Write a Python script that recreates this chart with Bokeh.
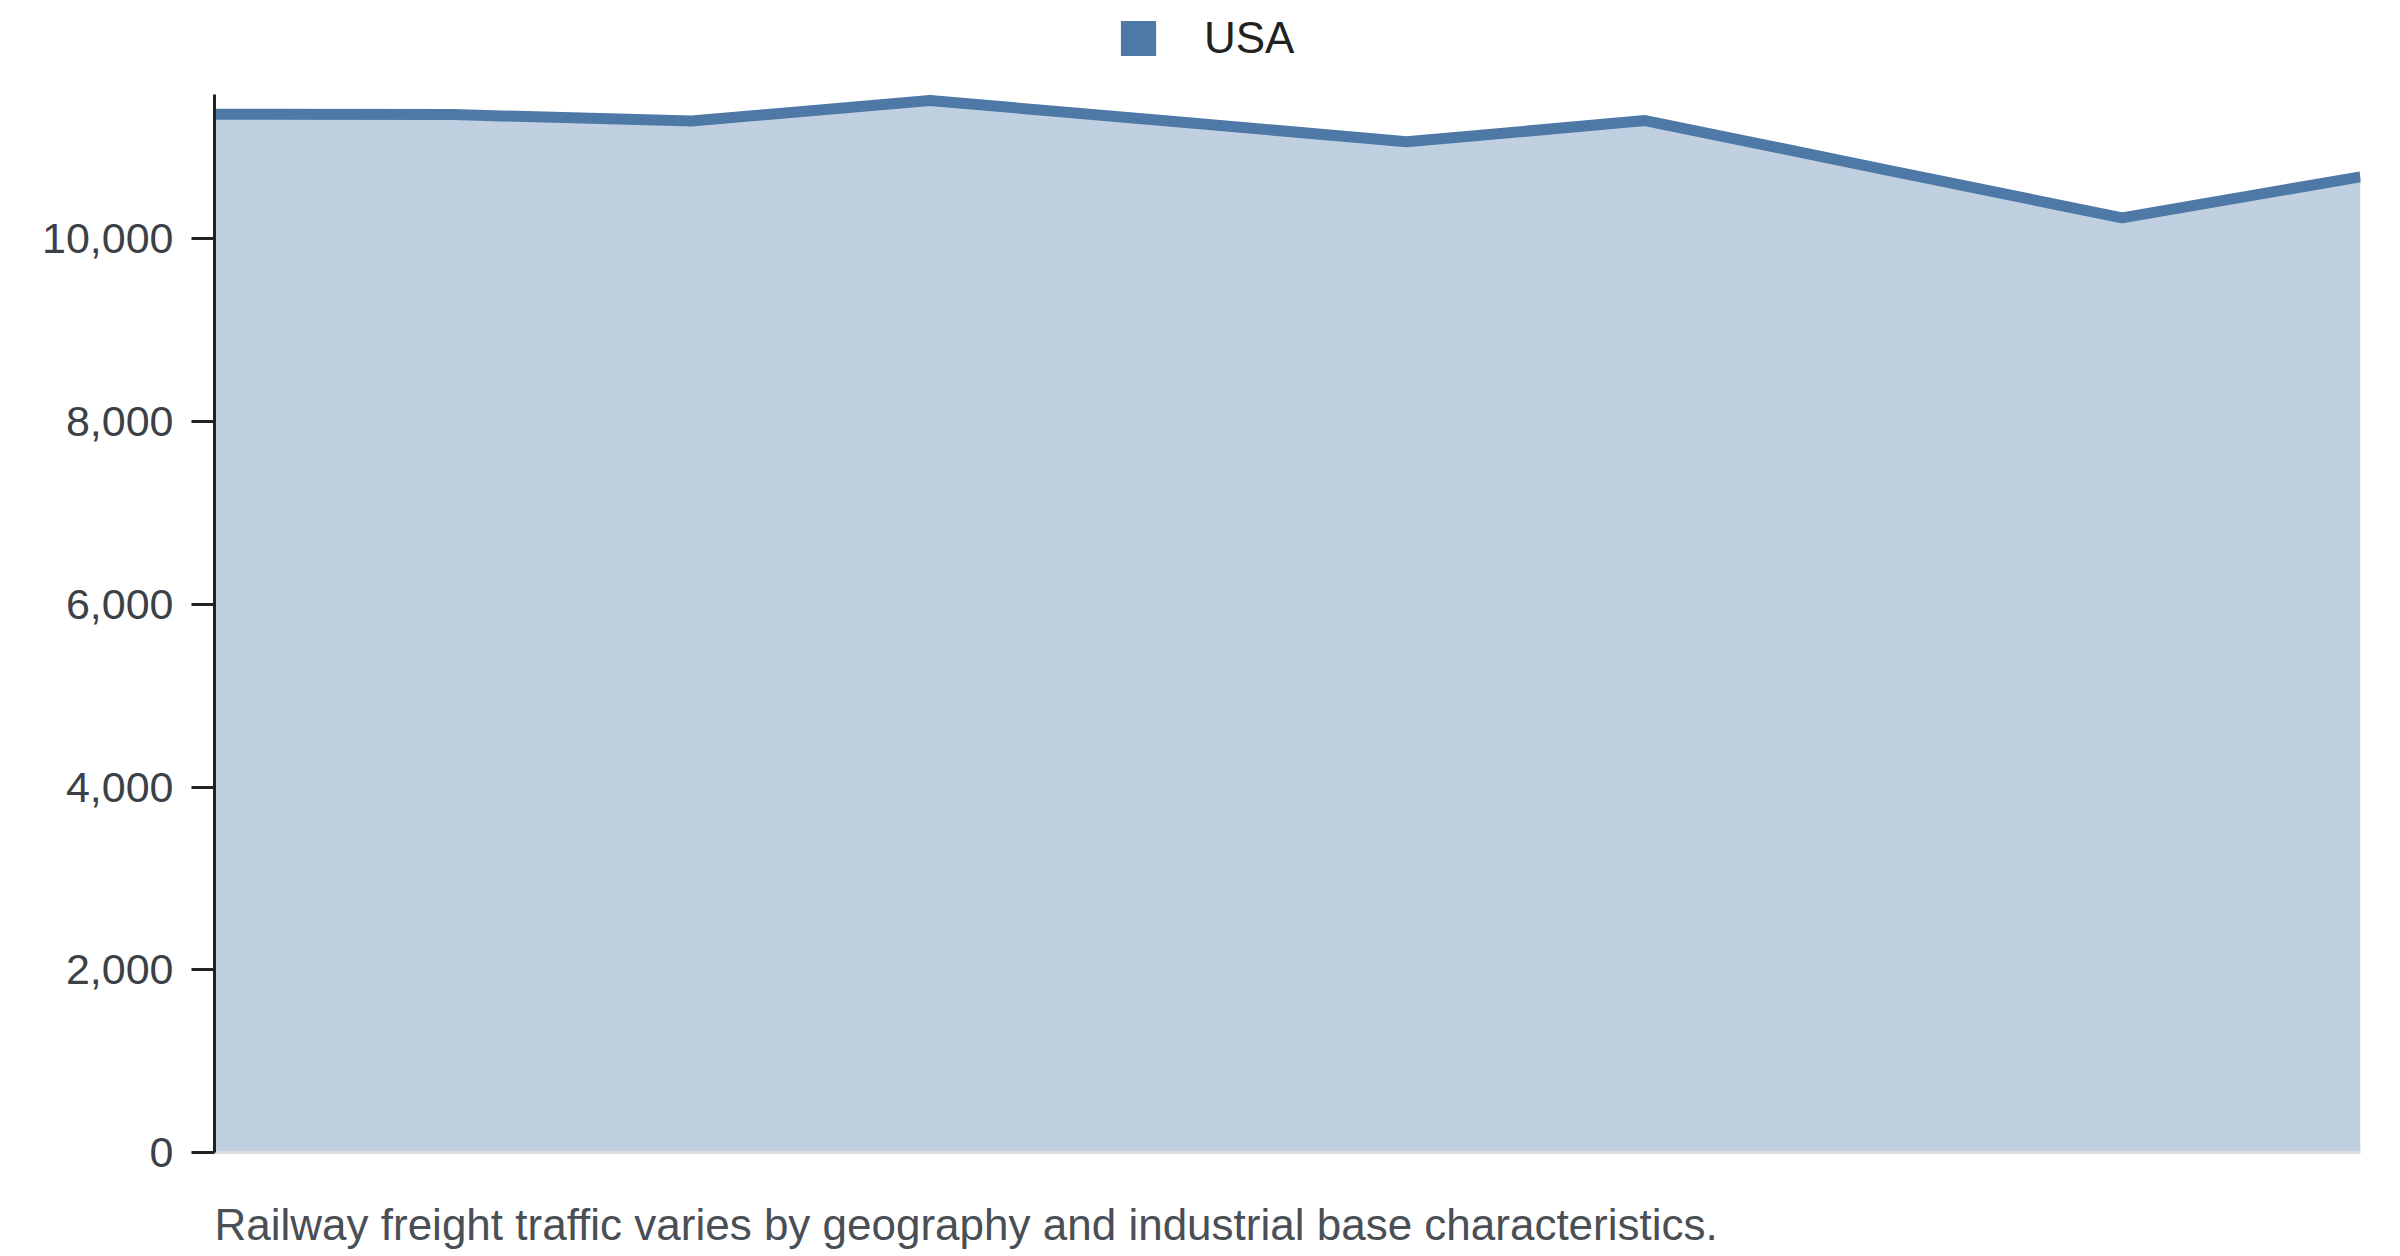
from bokeh.plotting import figure
from bokeh.layouts import column
from bokeh.models import ColumnDataSource, Range1d, FixedTicker, NumeralTickFormatter, Legend, LegendItem, Label
from bokeh.embed import file_html
from bokeh.resources import INLINE

# ---- data ----
series_name = "USA"
periods = [0, 1, 2, 3, 4, 5, 6, 7, 8, 9]
usa_values = [11363, 11360, 11290, 11514, 11290, 11062, 11295, 10761, 10230, 10679]
y_ticks = [0, 2000, 4000, 6000, 8000, 10000]
caption = "Railway freight traffic varies by geography and industrial base characteristics."

BLUE = "#4e79a7"
FONT = "Liberation Sans"
W = 2384
LEG_H = 94
LEFT = 214
FRAME_H = 1058
MAIN_BOTTOM = 40
CAP_H = 1250 - LEG_H - FRAME_H - MAIN_BOTTOM


def strip(height):
    f = figure(width=W, height=height, min_border=0, x_axis_type=None, y_axis_type=None,
               x_range=Range1d(0, 1), y_range=Range1d(0, 1),
               output_backend="svg", toolbar_location=None, outline_line_color=None)
    f.grid.visible = False
    return f


# ---- legend strip ----
pl = strip(LEG_H)
# zero-size key glyph: draws nothing in the strip, only feeds the legend swatch
swatch_src = ColumnDataSource(dict(left=[0], right=[0], top=[0], bottom=[0]))
swatch = pl.quad(left="left", right="right", top="top", bottom="bottom", source=swatch_src,
                 fill_color=BLUE, fill_alpha=1.0, line_color=None)
legend = Legend(
    items=[LegendItem(label=series_name, renderers=[swatch])],
    location=(1116 - LEFT, 31),
    orientation="horizontal",
    glyph_width=44, glyph_height=44, label_height=44,
    label_standoff=44,
    label_text_font=FONT, label_text_font_size="44px", label_text_color="#222222",
    padding=0, margin=0, spacing=0,
    border_line_color=None, background_fill_alpha=0,
)
pl.add_layout(legend)

# ---- main chart ----
src = ColumnDataSource(dict(x=periods, y=usa_values, base=[0] * len(periods)))

p = figure(
    frame_width=2146, frame_height=FRAME_H,
    min_border_left=LEFT, min_border_right=W - LEFT - 2146,
    min_border_top=0, min_border_bottom=MAIN_BOTTOM,
    x_range=Range1d(periods[0], periods[-1]),
    y_range=Range1d(0, 11580),
    output_backend="svg", toolbar_location=None,
    outline_line_color=None, background_fill_color="white",
    border_fill_color="white",
)
p.grid.visible = False

p.varea(x="x", y1="base", y2="y", source=src, fill_color=BLUE, fill_alpha=0.35)
p.line(x="x", y="y", source=src, line_color=BLUE, line_width=11)

ya = p.yaxis[0]
ya.ticker = FixedTicker(ticks=y_ticks)
ya.formatter = NumeralTickFormatter(format="0,0")
ya.axis_line_color = "#222222"
ya.axis_line_width = 3
ya.major_tick_line_color = "#222222"
ya.major_tick_line_width = 3
ya.major_tick_out = 23
ya.major_tick_in = 0
ya.minor_tick_line_color = None
ya.major_label_standoff = 18
ya.major_label_text_font = FONT
ya.major_label_text_font_size = "43px"
ya.major_label_text_color = "#3c4047"

xa = p.xaxis[0]
xa.ticker = FixedTicker(ticks=[])
xa.axis_line_color = "#dcdde0"
xa.axis_line_width = 3
xa.major_tick_line_color = None
xa.minor_tick_line_color = None
xa.major_tick_out = 0
xa.major_tick_in = 0
xa.major_label_standoff = 0

# ---- caption strip ----
pc = strip(CAP_H)
pc.add_layout(Label(x=0, y=26, x_units="screen", y_units="screen", text=caption,
                    text_font=FONT, text_font_size="44px", text_color="#4a4e55",
                    text_align="left", text_baseline="alphabetic"))

layout = column(pl, p, pc, spacing=0)
open("out.html", "w").write(file_html(layout, INLINE))
